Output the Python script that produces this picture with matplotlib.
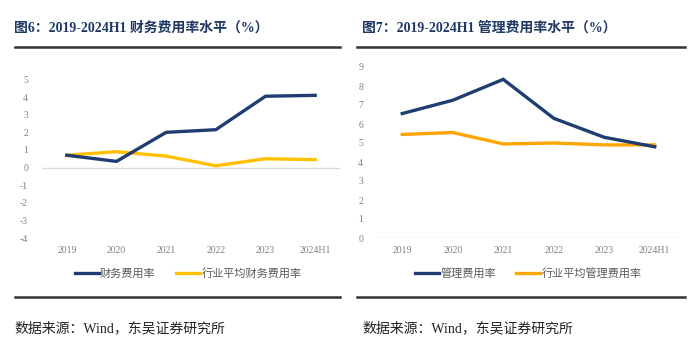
import numpy as np
import matplotlib.pyplot as plt
from matplotlib.lines import Line2D

plt.rcParams["axes.unicode_minus"]=False

years=["2019","2020","2021","2022","2023","2024H1"]
fin_rate=[0.7,0.35,2.0,2.15,4.05,4.1]
fin_ind=[0.7,0.9,0.65,0.1,0.5,0.45]
adm_rate=[6.55,7.25,8.35,6.3,5.3,4.8]
adm_ind=[5.45,5.55,4.95,5.0,4.9,4.9]

NAVY="#1F3D70"
YEL="#FFC000"
ORG="#FFA500"
GRAY="#808080"
mix=["Liberation Serif","Noto Sans CJK SC"]
cjk=["Noto Sans CJK SC","DejaVu Sans"]

W,H=700,355
fig=plt.figure(figsize=(7,3.55),dpi=100)

def px(x0,y0,x1,y1):
    return [x0/W,1-y1/H,(x1-x0)/W,(y1-y0)/H]

def hline(x0,x1,y):
    fig.add_artist(Line2D([x0/W,x1/W],[1-y/H,1-y/H],color="#333333",lw=1.8,transform=fig.transFigure))

def panel(rect,s1,s2,c2,n1,n2,ylim,yticks,zero_y,lx):
    ax=fig.add_axes(rect)
    x=np.arange(len(years))
    ax.axhline(zero_y,color="#D9D9D9",lw=1,zorder=1)
    ax.plot(x,s1,color=NAVY,lw=2.4,label=n1,zorder=3,solid_joinstyle="miter")
    ax.plot(x,s2,color=c2,lw=2.4,label=n2,zorder=2,solid_joinstyle="miter")
    ax.set_xlim(-0.5,5.5);ax.set_ylim(*ylim)
    ax.set_xticks(x);ax.set_xticklabels(years)
    ax.set_yticks(yticks)
    for s in ax.spines.values(): s.set_visible(False)
    ax.tick_params(length=0,labelsize=7,labelcolor=GRAY)
    ax.tick_params(axis="y",pad=10)
    ax.tick_params(axis="x",pad=6)
    for t in ax.get_xticklabels()+ax.get_yticklabels(): t.set_fontfamily("Liberation Serif")
    leg=ax.legend(loc="center",bbox_to_anchor=(lx/W,1-273/H),bbox_transform=fig.transFigure,
                  ncol=2,frameon=False,handlelength=2.2,handletextpad=0.1,columnspacing=1.8,
                  prop={"family":cjk,"size":8})
    for t in leg.get_texts(): t.set_color("#595959")
    return ax

panel(px(42,79.5,340,238),fin_rate,fin_ind,YEL,"财务费用率","行业平均财务费用率",(-4,5),range(-4,6),0,188)
panel(px(377,67,680,238),adm_rate,adm_ind,ORG,"管理费用率","行业平均管理费用率",(0,9),range(0,10),0,528)

fig.text(14/W,1-28/H,"图6：2019-2024H1 财务费用率水平（%）",fontsize=10,fontweight="bold",color="#1F3864",
         family=mix,va="center",ha="left")
fig.text(362/W,1-28/H,"图7：2019-2024H1 管理费用率水平（%）",fontsize=10,fontweight="bold",color="#1F3864",
         family=mix,va="center",ha="left")
hline(15,340,47);hline(357,685,47)
hline(15,340,297);hline(357,685,297)
fig.text(14/W,1-328/H,"数据来源：Wind，东吴证券研究所",fontsize=10,color="#222222",family=mix,va="center",ha="left")
fig.text(362/W,1-328/H,"数据来源：Wind，东吴证券研究所",fontsize=10,color="#222222",family=mix,va="center",ha="left")

fig.savefig("out.png",dpi=100,facecolor="white")
